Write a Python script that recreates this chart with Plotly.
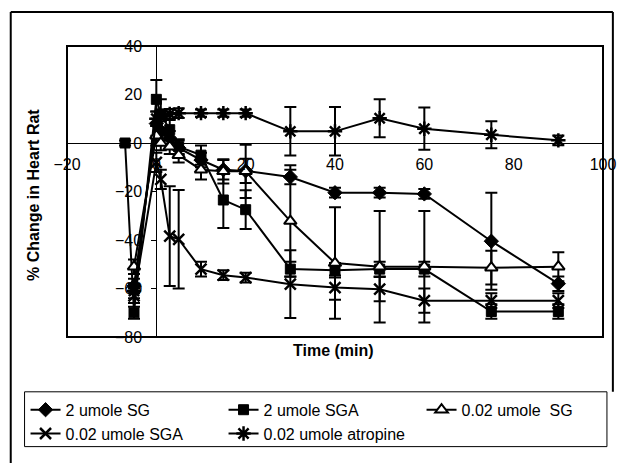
import plotly.graph_objects as go

# ---------------- data ----------------
t_sga2 = [-7, -5, 0, 1, 3, 5, 10, 15, 20, 30, 40, 50, 60, 75, 90]
t_main = [-5, 0, 1, 3, 5, 10, 15, 20, 30, 40, 50, 60, 75, 90]

sg_2 = [-59, 8, 5, 2, -2, -7, -11, -11.5, -14, -20.5, -20.5, -21, -40.5, -58]
sg_2_err = [3, 5, 4, 3, 3, 3, 4, 5, 3, 2, 2, 2, 20, 3]

sga_2 = [0, -70, 18, 12, 5.5, -1.5, -5, -23.5, -27.5, -52, -52.5, -52, -52, -69.5, -69.5]
sga_2_err = [1, 2.5, 8, 6, 4, 3, 4, 11.5, 8, 3, 3, 3, 3, 3, 3]

sg_002 = [-51, 3, 0, -1.5, -5, -11, -11.7, -11.7, -32.2, -49.5, -51, -51, -51.4, -51]
sg_002_err = [3, 4, 3, 3, 3, 4, 5, 11, 23, 23, 23, 23, 7, 6]

sga_002 = [-63, -8, -15, -38.4, -39.7, -52, -54.5, -55.5, -58.2, -59.6, -60.3, -65, -65, -65]
sga_002_err = [3, 4, 4, 20.6, 20.3, 3, 2, 2, 14, 5, 5, 5, 3, 3]

atropine = [-61, 10, 11, 12, 12.3, 12.3, 12.3, 12.3, 4.8, 4.8, 10.2, 5.9, 3.4, 1.1]
atropine_err = [3, 3, 2, 2, 2, 1.5, 1.5, 1.5, 10, 10, 7.8, 8.7, 5.6, 2]

names = ["2 umole SG", "2 umole SGA", "0.02 umole\u00a0 SG", "0.02 umole SGA", "0.02 umole atropine"]
x_ticks = [-20, 0, 20, 40, 60, 80, 100]
y_ticks = [-80, -60, -40, -20, 0, 20, 40]

# ---------------- figure ----------------
W, H = 628, 463
L, R, T, B = 67, 610, 46, 338  # plot area in pixels


def px(xp):
    return (xp - L) / (R - L)


def py(yp):
    return (B - yp) / (B - T)


series = [
    (names[0], t_main, sg_2, sg_2_err, "diamond", "black", 11),
    (names[1], t_sga2, sga_2, sga_2_err, "square", "black", 10),
    (names[2], t_main, sg_002, sg_002_err, "triangle-up", "white", 11),
    (names[3], t_main, sga_002, sga_002_err, "x-thin", "black", 11),
    (names[4], t_main, atropine, atropine_err, "asterisk", "black", 12),
]

fig = go.Figure()
for name, xs, ys, es, sym, fill, size in series:
    fig.add_trace(go.Scatter(
        x=xs, y=ys, mode="lines+markers", name=name,
        line=dict(color="black", width=2),
        marker=dict(symbol=sym, size=size, color=fill,
                    line=dict(color="black", width=2.5 if sym in ("x-thin", "asterisk") else (2 if sym == "triangle-up" else 1))),
        error_y=dict(type="data", array=es, visible=True, color="black", thickness=2, width=6),
    ))

font = "Liberation Sans, Arial, sans-serif"

fig.update_layout(
    width=W, height=H,
    margin=dict(l=L, r=W - R, t=T, b=H - B),
    paper_bgcolor="white", plot_bgcolor="white",
    font=dict(family=font, size=16, color="black"),
    xaxis=dict(range=[-20, 100], tickvals=x_ticks, showgrid=False,
               zeroline=True, zerolinecolor="black", zerolinewidth=1,
               showline=False, ticks="", anchor="free", position=80 / 120,
               tickfont=dict(size=16), ticklabelstandoff=10),
    yaxis=dict(range=[-80, 40], tickvals=y_ticks, showgrid=False,
               zeroline=True, zerolinecolor="black", zerolinewidth=1,
               showline=False, ticks="outside", ticklen=5, tickcolor="black",
               anchor="free", position=20 / 120,
               tickfont=dict(size=16), ticklabelstandoff=6),
    showlegend=True,
    legend=dict(orientation="h", x=px(25), y=py(394), xanchor="left", yanchor="top",
                borderwidth=0, bgcolor="rgba(0,0,0,0)",
                entrywidth=153, entrywidthmode="pixels",
                font=dict(size=16, family=font), tracegroupgap=0),
    annotations=[
        dict(text="<b>Time (min)</b>", x=px(337), y=py(352), xref="paper", yref="paper",
             showarrow=False, xanchor="center", yanchor="middle", font=dict(size=16)),
        dict(text="<b>% Change in Heart Rat</b>", x=px(33), y=py(195), xref="paper", yref="paper",
             showarrow=False, xanchor="center", yanchor="middle", textangle=-90, font=dict(size=16)),
    ],
    shapes=[
        dict(type="rect", xref="paper", yref="paper", x0=0, x1=1, y0=0, y1=1,
             line=dict(color="black", width=2)),
        dict(type="rect", xref="paper", yref="paper", x0=px(24), x1=px(614), y0=py(393), y1=py(448),
             line=dict(color="black", width=1)),
        dict(type="line", xref="paper", yref="paper", x0=px(10), x1=px(620), y0=py(12), y1=py(12),
             line=dict(color="black", width=2)),
        dict(type="line", xref="paper", yref="paper", x0=px(10), x1=px(10), y0=py(12), y1=py(470),
             line=dict(color="black", width=2)),
        dict(type="line", xref="paper", yref="paper", x0=px(620), x1=px(620), y0=py(12), y1=py(393),
             line=dict(color="black", width=2)),
    ],
)

fig.write_html("out.html")
